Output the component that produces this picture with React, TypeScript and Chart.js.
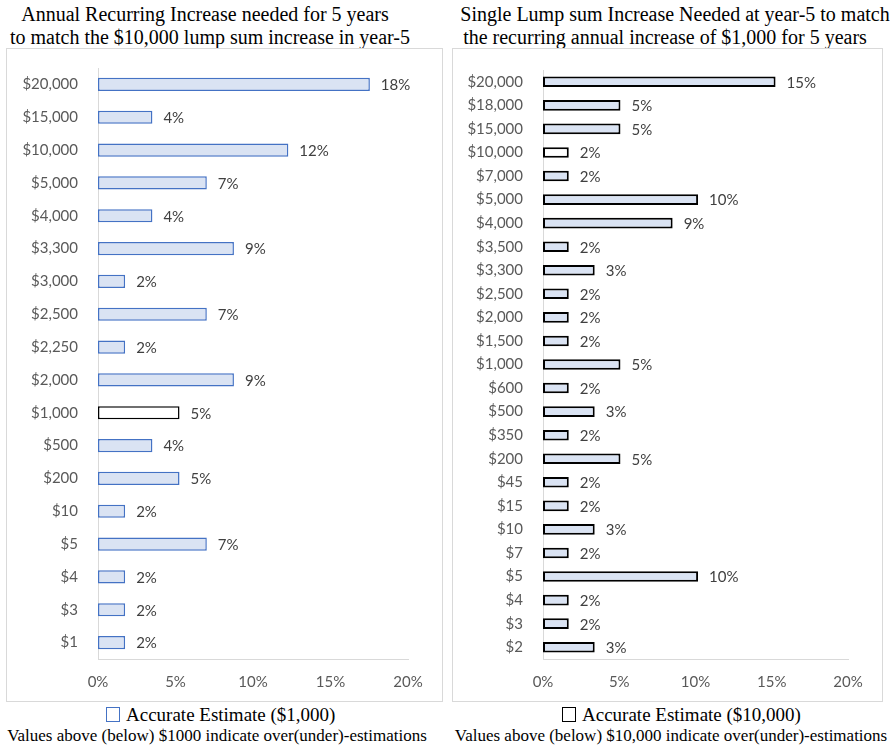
import React, { useEffect, useRef } from 'react';
import { Chart, registerables } from 'chart.js';
Chart.register(...registerables);

const leftLabels = ['$20,000', '$15,000', '$10,000', '$5,000', '$4,000', '$3,300', '$3,000', '$2,500', '$2,250', '$2,000', '$1,000', '$500', '$200', '$10', '$5', '$4', '$3', '$1'];
const leftValues = [17.54, 3.51, 12.28, 7.02, 3.51, 8.77, 1.75, 7.02, 1.75, 8.77, 5.26, 3.51, 5.26, 1.75, 7.02, 1.75, 1.75, 1.75];
const leftAccurate = '$1,000';

const rightLabels = ['$20,000', '$18,000', '$15,000', '$10,000', '$7,000', '$5,000', '$4,000', '$3,500', '$3,300', '$2,500', '$2,000', '$1,500', '$1,000', '$600', '$500', '$350', '$200', '$45', '$15', '$10', '$7', '$5', '$4', '$3', '$2'];
const rightValues = [15.25, 5.08, 5.08, 1.69, 1.69, 10.17, 8.5, 1.69, 3.39, 1.69, 1.69, 1.69, 5.08, 1.69, 3.39, 1.69, 5.08, 1.69, 1.69, 3.39, 1.69, 10.17, 1.69, 1.69, 3.39];
const rightAccurate = '$10,000';

const xMin = 0;
const xMax = 20;
const xStep = 5;

const TICK_FONT = { family: 'Lato', size: 15 };

const dataLabelPlugin = {
  id: 'barValueLabels',
  afterDatasetsDraw(chart: any) {
    const ctx = chart.ctx;
    const meta = chart.getDatasetMeta(0);
    const ds = chart.data.datasets[0];
    ctx.save();
    ctx.font = '15px Lato';
    ctx.fillStyle = '#404040';
    ctx.textAlign = 'left';
    ctx.textBaseline = 'middle';
    meta.data.forEach((el: any, i: number) => {
      const v = ds.data[i] as number;
      ctx.fillText(Math.round(v) + '%', el.x + 11, el.y + 1);
    });
    ctx.restore();
  },
};

type BarProps = {
  labels: string[];
  values: number[];
  accurate: string;
  edge: string;
  edgeWidth: number;
  barPct: number;
  width: number;
  height: number;
  padTop: number;
  yWidth: number;
};

function BarChart(p: BarProps) {
  const ref = useRef<HTMLCanvasElement>(null);
  useEffect(() => {
    if (!ref.current) return;
    const chart = new Chart(ref.current, {
      type: 'bar',
      data: {
        labels: p.labels,
        datasets: [
          {
            data: p.values,
            backgroundColor: p.labels.map((l) => (l === p.accurate ? '#FFFFFF' : '#DAE3F3')),
            borderColor: p.labels.map((l) => (l === p.accurate ? '#000000' : p.edge)),
            borderWidth: p.edgeWidth,
            borderSkipped: false,
            barPercentage: p.barPct,
            categoryPercentage: 1,
          },
        ],
      },
      options: {
        indexAxis: 'y',
        responsive: false,
        animation: false,
        layout: { padding: { top: p.padTop, right: 35, bottom: 0, left: 0 } },
        plugins: { legend: { display: false }, tooltip: { enabled: false }, title: { display: false } },
        scales: {
          x: {
            min: xMin,
            max: xMax,
            grid: { display: false, drawTicks: false },
            border: { display: true, color: '#D9D9D9', width: 1 },
            ticks: {
              stepSize: xStep,
              padding: 14,
              color: '#595959',
              font: TICK_FONT,
              callback: (v: any) => v + '%',
            },
            afterFit: (s: any) => {
              s.height = 43;
            },
          },
          y: {
            grid: { display: false, drawTicks: false },
            border: { display: true, color: '#D9D9D9', width: 1 },
            ticks: { padding: 20, color: '#595959', font: TICK_FONT, autoSkip: false },
            afterFit: (s: any) => {
              s.width = p.yWidth;
              s.paddingTop = 0;
              s.paddingBottom = 0;
            },
          },
        },
      },
      plugins: [dataLabelPlugin],
    });
    return () => chart.destroy();
  }, []);
  return <canvas ref={ref} width={p.width} height={p.height} style={{ display: 'block' }} />;
}

const serif = '"Liberation Serif", "Times New Roman", serif';

function Line({ text, cx, top, size }: { text: string; cx: number; top: number; size: number }) {
  return (
    <div
      style={{
        position: 'absolute',
        left: cx - 300,
        width: 600,
        top,
        textAlign: 'center',
        fontFamily: serif,
        fontSize: size,
        lineHeight: '23px',
        color: '#000',
        whiteSpace: 'nowrap',
      }}
    >
      {text}
    </div>
  );
}

function Legend({ text, left, top, color }: { text: string; left: number; top: number; color: string }) {
  return (
    <div
      style={{
        position: 'absolute',
        left,
        top,
        fontFamily: serif,
        fontSize: 19,
        lineHeight: '23px',
        whiteSpace: 'nowrap',
        display: 'flex',
        alignItems: 'center',
      }}
    >
      <span
        style={{
          display: 'inline-block',
          width: 14,
          height: 15,
          boxSizing: 'border-box',
          border: `1.5px solid ${color}`,
          background: '#fff',
          marginRight: 6,
        }}
      />
      <span>{text}</span>
    </div>
  );
}

export default function App() {
  return (
    <div style={{ position: 'absolute', left: 0, top: 0, width: 895, height: 749, background: '#fff', overflow: 'hidden' }}>
      <Line text="Annual Recurring Increase needed for 5 years" cx={205} top={3} size={20} />
      <Line text="to match the $10,000 lump sum increase in year-5" cx={210} top={26} size={20} />
      <Line text="Single Lump sum Increase Needed at year-5 to match" cx={675} top={3} size={20} />
      <Line text="the recurring annual increase of $1,000 for 5 years" cx={665} top={26} size={20} />

      <div style={{ position: 'absolute', left: 6, top: 48, width: 437, height: 654, boxSizing: 'border-box', border: '1px solid #D9D9D9' }} />
      <div style={{ position: 'absolute', left: 6, top: 48 }}>
        <BarChart
          labels={leftLabels}
          values={leftValues}
          accurate={leftAccurate}
          edge="#4472C4"
          edgeWidth={1.5}
          barPct={0.4}
          width={437}
          height={654}
          padTop={20}
          yWidth={92}
        />
      </div>

      <div style={{ position: 'absolute', left: 452, top: 48, width: 431, height: 654, boxSizing: 'border-box', border: '1px solid #D9D9D9' }} />
      <div style={{ position: 'absolute', left: 452, top: 48 }}>
        <BarChart
          labels={rightLabels}
          values={rightValues}
          accurate={rightAccurate}
          edge="#000000"
          edgeWidth={2}
          barPct={0.45}
          width={431}
          height={654}
          padTop={22}
          yWidth={91}
        />
      </div>

      <Legend text="Accurate Estimate ($1,000)" left={106} top={703} color="#4472C4" />
      <Legend text="Accurate Estimate ($10,000)" left={562} top={703} color="#000000" />
      <Line text="Values above (below) $1000 indicate over(under)-estimations" cx={217} top={724} size={17} />
      <Line text="Values above (below) $10,000 indicate over(under)-estimations" cx={671} top={724} size={17} />
    </div>
  );
}
